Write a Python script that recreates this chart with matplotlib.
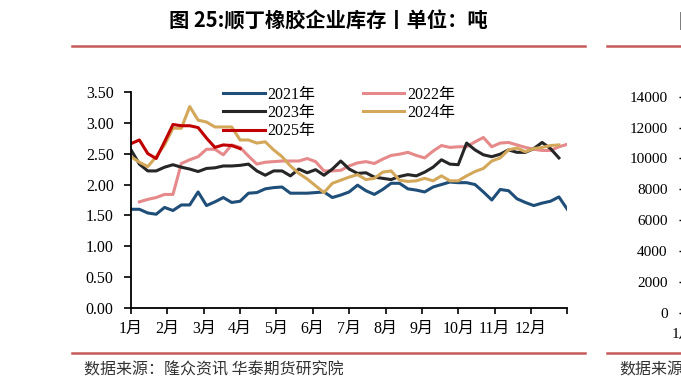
import numpy as np
import matplotlib
matplotlib.use("Agg")
import matplotlib.pyplot as plt

# 周度库存（万吨），按周序号读取
y2021 = [1.60, 1.60, 1.54, 1.52, 1.63, 1.58, 1.67, 1.67, 1.88, 1.66, 1.72, 1.79, 1.71,
         1.73, 1.86, 1.87, 1.93, 1.95, 1.96, 1.86, 1.86, 1.86, 1.87, 1.88, 1.79, 1.83,
         1.88, 1.99, 1.90, 1.84, 1.92, 2.02, 2.02, 1.93, 1.91, 1.88, 1.96, 2.00, 2.04,
         2.03, 2.03, 2.00, 1.88, 1.75, 1.92, 1.90, 1.77, 1.71, 1.66, 1.70, 1.73, 1.80, 1.60]
y2022 = [1.72, 1.76, 1.79, 1.84, 1.84, 2.34, 2.40, 2.45, 2.57, 2.57, 2.48, 2.64, 2.60,
         2.46, 2.33, 2.36, 2.37, 2.38, 2.38, 2.38, 2.42, 2.37, 2.22, 2.22, 2.23, 2.30,
         2.35, 2.37, 2.34, 2.41, 2.47, 2.49, 2.52, 2.47, 2.43, 2.54, 2.63, 2.60, 2.61,
         2.61, 2.69, 2.76, 2.61, 2.67, 2.68, 2.64, 2.60, 2.57, 2.55, 2.55, 2.61, 2.65]
y2023 = [2.56, 2.33, 2.22, 2.22, 2.28, 2.32, 2.28, 2.25, 2.21, 2.26, 2.27, 2.30, 2.30,
         2.31, 2.33, 2.22, 2.15, 2.22, 2.22, 2.14, 2.25, 2.19, 2.24, 2.15, 2.25, 2.38,
         2.25, 2.18, 2.19, 2.12, 2.10, 2.08, 2.13, 2.16, 2.14, 2.20, 2.28, 2.40, 2.33,
         2.32, 2.67, 2.56, 2.48, 2.45, 2.49, 2.56, 2.52, 2.52, 2.58, 2.68, 2.58, 2.43]
y2024 = [2.45, 2.36, 2.29, 2.45, 2.64, 2.91, 2.91, 3.26, 3.04, 3.01, 2.93, 2.93, 2.93,
         2.72, 2.72, 2.67, 2.69, 2.56, 2.45, 2.30, 2.18, 2.09, 1.98, 1.87, 2.02, 2.07,
         2.12, 2.16, 2.08, 2.10, 2.20, 2.22, 2.07, 2.05, 2.06, 2.10, 2.06, 2.14, 2.06,
         2.06, 2.14, 2.21, 2.26, 2.38, 2.43, 2.56, 2.59, 2.53, 2.58, 2.60, 2.63, 2.64]
y2025 = [2.66, 2.72, 2.50, 2.42, 2.69, 2.97, 2.95, 2.95, 2.92, 2.75, 2.60, 2.64, 2.63, 2.58]

months = ['1月', '2月', '3月', '4月', '5月', '6月', '7月', '8月', '9月', '10月', '11月', '12月']
right_ticks = [0, 2000, 4000, 6000, 8000, 10000, 12000, 14000]

serif_cjk = ['Liberation Serif', 'Noto Sans CJK SC']
sans_cjk = ['Noto Sans CJK SC', 'DejaVu Sans']

fig = plt.figure(figsize=(6.81, 3.89), dpi=100)
W, H = 681, 389

def box(x0, y0, x1, y1):
    # 像素坐标 -> 图形坐标
    return [x0 / W, 1 - y1 / H, (x1 - x0) / W, (y1 - y0) / H]

ax = fig.add_axes(box(131, 91.7, 567.3, 308.3))

ax.plot(np.arange(0, len(y2021)), y2021, color='#1F4E79', lw=2.2, label='2021年')
ax.plot(np.arange(1, 1 + len(y2022)), y2022, color='#E6898A', lw=2.2, label='2022年')
ax.plot(np.arange(0, len(y2023)), y2023, color='#262626', lw=2.2, label='2023年')
ax.plot(np.arange(0, len(y2024)), y2024, color='#D4A85A', lw=2.2, label='2024年')
ax.plot(np.arange(0, len(y2025)), y2025, color='#C00000', lw=2.2, label='2025年')

ax.set_xlim(0, 52)
ax.set_ylim(0, 3.5)
ax.set_yticks(np.arange(0, 3.51, 0.5))
ax.set_yticklabels([f'{v:.2f}' for v in np.arange(0, 3.51, 0.5)])
ax.set_xticks(np.arange(13) * 52 / 12)
ax.set_xticklabels(months + [''])

for s in ['top', 'right']:
    ax.spines[s].set_visible(False)
for s in ['left', 'bottom']:
    ax.spines[s].set_linewidth(1.3)
ax.tick_params(axis='y', direction='out', length=5, width=1.2, pad=7.5)
ax.tick_params(axis='x', direction='out', length=4, width=1.2, pad=5)
for lab in ax.get_xticklabels() + ax.get_yticklabels():
    lab.set_family(serif_cjk)
    lab.set_fontsize(11.5)

h, l = ax.get_legend_handles_labels()
order = [0, 2, 4, 1, 3]
ax.legend([h[i] for i in order], [l[i] for i in order], ncol=2, frameon=False,
          loc='upper left', bbox_to_anchor=(0.211, 1.024), borderaxespad=0,
          borderpad=0, handlelength=2.6, handletextpad=0.15, columnspacing=3.0,
          labelspacing=0.15, prop={'family': serif_cjk, 'size': 11.5})

# 右侧被截断的图
ax2 = fig.add_axes(box(683, 96.7, 900, 313))
ax2.set_ylim(0, 14000)
ax2.set_xlim(0, 52)
ax2.set_yticks(right_ticks)
ax2.set_xticks([0])
ax2.set_xticklabels(['1月'])
ax2.tick_params(axis='both', direction='out', length=3, width=1, pad=8)
for lab in ax2.get_xticklabels() + ax2.get_yticklabels():
    lab.set_family(serif_cjk)
    lab.set_fontsize(11)

# 标题、分隔线和来源
fig.text(328 / W, 1 - 21 / H, '图 25:顺丁橡胶企业库存丨单位：吨', ha='center', va='center',
         fontsize=14.6, fontweight='bold', family=sans_cjk)
fig.text(678.5 / W, 1 - 21 / H, '图', ha='left', va='center',
         fontsize=14.6, fontweight='bold', family=sans_cjk)
line_c = '#C8595A'
for y in (46, 353):
    fig.add_artist(plt.Line2D([72 / W, 585 / W], [1 - y / H] * 2, color=line_c, lw=1.8))
    fig.add_artist(plt.Line2D([607 / W, 1], [1 - y / H] * 2, color=line_c, lw=1.8))
fig.text(84 / W, 1 - 370 / H, '数据来源：隆众资讯 华泰期货研究院', ha='left', va='center',
         fontsize=11.5, color='#333333', family=sans_cjk)
fig.text(619 / W, 1 - 370 / H, '数据来源', ha='left', va='center',
         fontsize=11.5, color='#333333', family=sans_cjk)

fig.savefig('out.png', dpi=100)
